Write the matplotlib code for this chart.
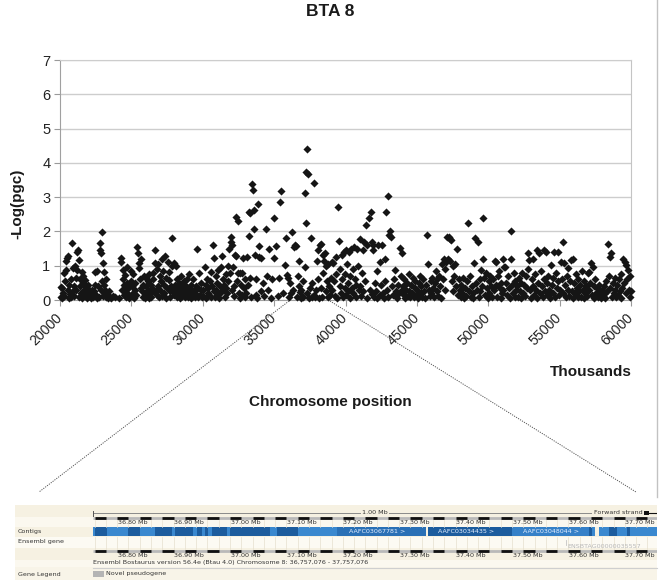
import matplotlib
matplotlib.use("Agg")
import matplotlib.pyplot as plt
from matplotlib.patches import Rectangle
import numpy as np

# ---------------- data: SNP position (kb) and -log(pgc) -----------------
pos_20_25 = [
    20050,20080,20130,20170,20200,20260,20300,20350,20400,20440,20490,20530,20570,20600,20640,20700,20740,20790,20850,20880,20930,20970,
    21010,21050,21090,21130,21180,21220,21260,21300,21330,21370,21420,21460,21520,21560,21600,21640,21690,21730,21780,21820,21870,21920,21960,
    22010,22060,22110,22160,22230,22300,22360,22420,22470,22520,22580,22620,22680,22730,22780,22810,22850,22880,22930,22960,22990,
    23020,23050,23080,23110,23150,23190,23230,23280,23330,23400,23470,23560,23680,23850,
    24150,24240,24290,24330,24380,24420,24460,24500,24540,24580,24620,24660,24700,24740,24790,24840,24890,24940,24980]
val_20_25 = [
    0.37,0.10,0.34,0.05,0.20,0.12,0.80,0.55,0.87,1.14,1.22,1.28,0.30,0.05,0.45,0.18,0.62,0.08,1.66,0.25,0.92,0.40,
    0.12,1.00,0.65,0.30,0.87,1.40,1.47,1.17,0.10,0.60,0.40,0.20,0.82,0.05,0.70,0.50,0.28,0.58,0.12,0.38,0.22,0.05,0.45,
    0.30,0.12,0.20,0.05,0.30,0.08,0.25,0.82,0.45,0.15,0.85,0.05,0.40,0.10,1.67,1.45,1.38,0.30,1.97,0.55,0.12,
    1.07,0.44,0.20,0.82,0.30,0.08,0.60,0.15,0.05,0.25,0.10,0.06,0.12,0.09,
    0.05,1.22,1.10,0.30,0.87,0.60,0.15,0.45,0.72,0.25,0.08,0.50,0.95,0.35,0.18,0.05,0.40,0.85,0.55]

pos_25_30 = [
    25020,25060,25100,25140,25190,25230,25280,25330,25400,25460,25520,25560,25600,25640,25690,25730,25780,25830,25880,25930,25970,
    26010,26050,26090,26130,26170,26210,26250,26300,26340,26390,26430,26480,26520,26560,26620,26680,26720,26770,26810,26860,26900,26950,
    27000,27040,27090,27130,27180,27220,27260,27300,27350,27400,27440,27480,27570,27610,27650,27700,27740,27790,27850,27880,27920,27960,
    28000,28040,28080,28120,28170,28210,28250,28300,28350,28400,28440,28490,28530,28580,28630,28680,28730,28780,28830,28880,28930,28970,
    29020,29070,29110,29160,29210,29260,29300,29350,29400,29450,29500,29550,29600,29650,29700,29750,29800,29850,29900,29950]
val_25_30 = [
    0.12,0.40,0.75,0.20,0.05,0.30,0.50,0.15,1.55,1.38,1.08,0.93,0.60,0.35,1.19,0.25,0.10,0.45,0.70,0.20,0.05,
    0.40,0.65,0.12,0.30,0.55,0.05,0.75,0.20,0.45,0.10,0.35,0.60,0.80,0.22,1.46,1.08,0.25,0.90,0.15,0.40,1.04,0.08,
    0.70,0.30,0.55,0.12,1.19,0.85,0.45,0.20,1.28,0.65,0.05,0.35,1.10,0.82,0.58,0.25,0.10,0.40,1.80,0.98,0.30,0.15,
    1.09,0.45,0.20,1.00,0.60,0.08,0.35,0.15,0.50,0.25,0.05,0.70,0.40,0.12,0.30,0.55,0.18,0.08,0.42,0.25,0.62,0.10,
    0.35,0.75,0.20,0.05,0.45,0.30,0.12,0.60,0.25,0.08,0.40,0.18,1.50,0.08,0.35,0.80,0.15,0.50,0.28,0.10]

pos_30_35 = [
    30000,30050,30160,30200,30250,30300,30350,30400,30450,30500,30550,30600,30650,30730,30760,30800,30850,30900,30950,
    31000,31050,31100,31150,31200,31250,31300,31360,31400,31450,31500,31550,31600,31650,31700,31750,31800,31850,31900,31970,
    32000,32050,32080,32120,32160,32200,32250,32320,32360,32400,32440,32490,32530,32580,32620,32680,32720,32760,32820,32870,32930,32970,
    33050,33100,33150,33220,33250,33300,33330,33400,33450,33500,33560,33610,33650,33700,33750,33780,33850,33920,33960,
    34050,34100,34200,34300,34440,34500,34600,34670,34750,34850,34960]
val_30_35 = [
    0.30,0.12,0.97,0.45,0.05,0.60,0.20,0.35,0.15,0.55,0.08,0.82,0.40,1.60,1.23,0.25,0.10,0.70,0.30,
    0.50,0.15,0.88,0.05,0.40,0.22,0.95,1.28,0.60,0.30,0.45,0.10,0.35,0.75,0.20,1.00,0.55,1.50,0.80,1.70,
    1.85,1.60,0.30,0.95,0.40,0.12,1.30,2.41,1.28,0.55,0.80,2.31,0.20,0.80,0.05,0.45,0.80,0.15,1.23,0.35,0.10,0.60,
    0.20,1.25,0.45,1.87,2.57,0.65,2.55,0.10,3.38,3.20,2.62,2.06,1.30,0.60,0.15,0.05,2.80,1.58,1.25,
    1.22,0.25,0.50,0.12,2.06,0.70,0.30,1.49,0.05,0.60,2.38]

pos_35_40 = [
    35020,35140,35250,35350,35440,35490,35600,35730,35850,35920,35970,
    36050,36120,36200,36270,36350,36400,36460,36550,36600,36650,36710,36760,36800,36850,36900,36950,
    37000,37050,37130,37140,37200,37210,37270,37320,37370,37420,37480,37560,37620,37680,37770,37820,37870,37930,
    38000,38050,38100,38150,38200,38250,38300,38350,38400,38450,38500,38540,38600,38650,38700,38750,38800,38860,38920,38970,
    39020,39080,39130,39200,39250,39300,39350,39400,39490,39530,39580,39630,39680,39730,39780,39830,39870,39930,39970]
val_35_40 = [
    1.22,1.58,0.12,0.65,2.87,3.18,0.20,1.02,1.80,0.72,0.64,
    0.08,0.50,0.20,1.97,0.30,1.55,1.60,1.58,0.10,0.70,1.15,0.40,0.22,0.05,0.30,0.12,
    0.55,0.10,0.97,3.11,3.74,2.24,0.20,4.39,3.67,0.05,0.35,1.80,0.10,0.50,3.40,0.15,0.08,0.30,
    1.15,0.60,1.45,0.05,1.60,0.35,1.62,0.10,1.30,0.80,1.15,1.36,0.25,1.00,0.55,0.08,1.05,0.40,0.15,0.65,
    0.30,1.10,1.09,0.55,0.12,1.25,0.75,0.05,2.72,1.72,0.40,0.90,0.20,1.30,0.60,0.10,1.40,0.35,0.75]

pos_40_45 = [
    40020,40070,40100,40150,40200,40260,40300,40350,40420,40470,40520,40560,40620,40660,40710,40760,40820,40890,40940,
    41010,41050,41100,41150,41200,41250,41300,41350,41410,41480,41530,41640,41700,41780,41830,41850,41900,41950,
    42000,42060,42120,42180,42240,42300,42390,42430,42500,42540,42620,42680,42740,42800,42840,42900,42960,
    43010,43050,43120,43200,43260,43320,43400,43450,43520,43580,43650,43720,43830,43880,43940,43980,
    44020,44080,44130,44190,44250,44300,44360,44420,44480,44540,44600,44660,44720,44780,44840,44900,44960]
val_40_45 = [
    0.15,1.45,1.06,0.50,0.25,1.40,0.70,0.05,1.50,0.35,0.90,0.20,1.55,0.60,0.10,0.45,1.50,0.99,0.30,
    1.77,0.40,0.12,0.78,1.45,0.25,1.70,0.55,2.20,1.60,0.05,2.38,0.30,2.56,1.70,0.18,1.60,1.45,
    0.10,0.50,0.25,0.85,0.05,1.60,1.12,0.15,0.45,1.60,0.20,0.05,0.55,1.20,2.56,0.30,0.10,
    3.03,1.90,2.00,1.85,0.40,0.15,0.60,0.87,0.25,0.05,0.45,0.20,1.52,0.70,1.37,0.30,
    0.40,0.15,0.60,0.05,0.30,0.50,0.12,0.75,0.25,0.08,0.45,0.20,0.65,0.10,0.35,0.55,0.15]

pos_45_50 = [
    45020,45080,45140,45200,45260,45320,45380,45450,45520,45580,45640,45700,45770,45830,45900,45960,
    46020,46080,46140,46200,46260,46320,46380,46440,46500,46560,46620,46680,46760,46820,46880,46940,
    47000,47050,47110,47170,47230,47300,47350,47390,47450,47500,47560,47620,47700,47760,47820,47880,47940,
    48000,48060,48120,48180,48240,48300,48360,48420,48480,48590,48650,48720,48780,48840,48900,48960,
    49000,49070,49130,49200,49270,49330,49400,49450,49520,49580,49630,49650,49720,49780,49840,49900,49960]
val_45_50 = [
    0.30,0.05,0.50,0.70,0.20,0.40,0.10,0.60,0.25,0.05,0.45,1.91,1.05,0.30,0.12,0.55,
    0.20,0.65,0.35,0.08,0.50,0.85,0.25,0.60,0.12,0.70,0.40,0.05,1.05,0.60,1.20,0.30,
    0.90,1.10,1.85,1.20,1.85,1.77,1.15,1.75,0.55,1.00,0.25,0.70,1.05,0.40,1.50,0.15,0.60,
    0.30,0.08,0.45,0.20,0.65,0.05,0.35,0.12,0.55,2.25,0.25,0.70,0.10,0.40,0.20,0.05,
    1.07,1.80,0.50,0.30,1.68,0.10,0.60,0.25,0.87,0.40,2.40,1.20,0.65,0.15,0.80,0.35,0.05]

pos_50_55 = [
    50020,50080,50140,50200,50260,50320,50380,50440,50510,50560,50620,50680,50740,50800,50860,50920,50970,
    51000,51060,51100,51200,51260,51320,51380,51440,51500,51570,51600,51660,51720,51780,51840,51900,51960,
    52020,52080,52140,52200,52260,52320,52380,52440,52500,52560,52620,52680,52750,52800,52860,52920,52970,
    53030,53100,53160,53220,53280,53340,53400,53450,53520,53570,53640,53700,53760,53820,53880,53920,53970,
    54040,54100,54160,54220,54280,54340,54390,54450,54510,54560,54620,54680,54740,54800,54860,54920,54970]
val_50_55 = [
    0.55,0.20,0.70,0.40,0.08,0.60,0.30,1.14,1.12,0.45,0.10,0.70,0.85,0.35,0.05,0.50,0.20,
    1.21,0.30,0.97,0.97,0.50,0.15,0.70,0.35,0.05,2.02,1.21,0.45,0.20,0.80,0.10,0.55,0.30,
    0.40,0.10,0.65,0.25,0.05,0.50,0.80,0.20,0.45,0.12,0.70,0.35,1.36,0.90,1.17,0.30,0.05,
    0.60,1.21,0.40,0.15,0.75,0.30,0.05,1.46,0.50,1.36,0.20,0.85,0.40,0.10,0.60,1.46,0.25,
    1.41,0.50,0.15,0.70,0.30,0.05,1.02,0.45,0.20,0.65,1.41,0.10,0.78,0.35,1.41,0.55,0.15]

pos_55_60 = [
    55030,55090,55150,55210,55270,55330,55390,55450,55500,55560,55620,55680,55740,55800,55860,55920,55970,
    56020,56080,56140,56200,56260,56320,56380,56440,56500,56560,56620,56680,56740,56800,56860,56920,56970,
    57030,57090,57150,57200,57260,57320,57380,57440,57500,57560,57620,57680,57740,57800,57860,57920,57970,
    58030,58090,58150,58210,58270,58330,58380,58440,58500,58560,58610,58670,58730,58790,58850,58910,58970,
    59030,59090,59150,59210,59270,59330,59390,59440,59500,59560,59620,59670,59730,59790,59850,59900,59950,59990]
val_55_60 = [
    0.30,1.12,0.60,1.68,0.20,1.07,0.45,0.08,0.70,0.92,0.30,0.12,0.55,1.17,0.25,1.21,0.05,
    0.50,0.20,0.75,0.35,0.08,0.60,0.25,0.45,0.10,0.85,0.30,0.05,0.55,0.20,0.40,0.12,0.78,
    0.30,0.83,0.50,1.07,0.15,0.97,0.40,0.05,0.60,0.20,0.35,0.10,0.45,0.15,0.25,0.05,0.30,
    0.12,0.40,0.20,0.05,0.55,0.25,1.63,0.70,1.26,0.35,1.36,0.10,0.50,0.20,0.65,0.30,0.08,
    0.45,0.15,0.60,0.25,0.05,0.75,0.35,1.21,0.50,1.12,0.20,1.02,0.60,0.87,0.30,0.70,0.10,0.25]

x_ticks = [20000, 25000, 30000, 35000, 40000, 45000, 50000, 55000, 60000]
x_tick_labels = ["20000", "25000", "30000", "35000", "40000", "45000", "50000", "55000", "60000"]
y_ticks = [0, 1, 2, 3, 4, 5, 6, 7]

# ---------------- Ensembl region (Mb) ----------------
region_start_mb = 36.757076
region_end_mb = 37.757076
ruler_labels_mb = [36.80, 36.90, 37.00, 37.10, 37.20, 37.30, 37.40, 37.50, 37.60, 37.70]
contig_starts = [36.7571, 36.7606, 36.7819, 36.8190, 36.8403, 36.8668, 36.8969, 36.9022, 36.9341, 36.9411,
                 36.9500, 36.9553, 36.9606, 36.9677, 36.9942, 36.9996, 37.0704, 37.0827, 37.1199, 37.1889,
                 37.3518, 37.4951, 37.5004, 37.6367, 37.6420, 37.6544, 37.6721, 37.6863, 37.7040, 37.7093]
contig_ends = [36.7606, 36.7819, 36.8190, 36.8403, 36.8668, 36.8969, 36.9022, 36.9341, 36.9411, 36.9500,
               36.9553, 36.9606, 36.9677, 36.9942, 36.9996, 37.0704, 37.0827, 37.1199, 37.1889, 37.3482,
               37.4951, 37.5004, 37.6367, 37.6420, 37.6474, 37.6721, 37.6863, 37.7040, 37.7093, 37.7571]
contig_shades = ["L", "D", "L", "D", "L", "D", "L", "D", "L", "D",
                 "L", "D", "L", "D", "L", "D", "L", "D", "L", "M",
                 "D", "D", "N", "D", "L", "L", "D", "L", "D", "L"]
contig_names = ["AAFC03067781 >", "AAFC03034435 >", "AAFC03048044 >"]
contig_name_mb = [37.2615, 37.419, 37.569]
gene_name = "ENSBTAG00000035557"
gene_mb = 37.596

# ---------------- figure ----------------
W, H = 661, 583
fig = plt.figure(figsize=(W / 100, H / 100), dpi=100)
fig.patch.set_facecolor("white")
FONT = ["Liberation Sans", "DejaVu Sans"]


def fx(px):
    return px / W


def fy(py):
    return 1 - py / H


positions = pos_20_25 + pos_25_30 + pos_30_35 + pos_35_40 + pos_40_45 + pos_45_50 + pos_50_55 + pos_55_60
values = val_20_25 + val_25_30 + val_30_35 + val_35_40 + val_40_45 + val_45_50 + val_50_55 + val_55_60
assert len(positions) == len(values), (len(positions), len(values))

ax = fig.add_axes([fx(60), fy(300), fx(631) - fx(60), fy(60) - fy(300)])
ax.set_facecolor("white")
ax.scatter(positions, values, marker="D", s=17, c="#151515", linewidths=0, zorder=3, clip_on=False)
ax.set_xlim(20000, 60000)
ax.set_ylim(0, 7)
ax.set_yticks(y_ticks)
ax.set_yticklabels([str(v) for v in y_ticks], fontfamily=FONT, fontsize=10.5, color="#222")
ax.set_xticks(x_ticks)
ax.set_xticklabels(x_tick_labels, rotation=45, ha="right", va="center",
                   rotation_mode="anchor", fontfamily=FONT, fontsize=10.2, color="#222")
ax.tick_params(axis="x", length=4, color="#9a9a9a", pad=7)
ax.tick_params(axis="y", length=4, color="#9a9a9a", pad=3)
ax.yaxis.grid(True, color="#cdcdcd", lw=1.0)
ax.set_axisbelow(True)
for side in ["left", "bottom"]:
    ax.spines[side].set_color("#a0a0a0")
ax.spines["right"].set_color("#c4c4c4")
ax.spines["top"].set_color("#cdcdcd")

fig.text(fx(330), fy(11), "BTA 8", ha="center", va="center", fontsize=12.5,
         fontweight="bold", fontfamily=FONT, color="#1a1a1a")
fig.text(fx(17), fy(204), "-Log(pgc)", ha="center", va="center", rotation=90,
         fontsize=11, fontweight="bold", fontfamily=FONT, color="#1a1a1a")
fig.text(fx(632), fy(372), "Thousands", ha="right", va="center", fontsize=11,
         fontweight="bold", fontfamily=FONT, color="#1a1a1a")
fig.text(fx(330), fy(402), "Chromosome position", ha="center", va="center",
         fontsize=11, fontweight="bold", fontfamily=FONT, color="#1a1a1a")

# ---------------- overlay in pixel coordinates ----------------
ov = fig.add_axes([0, 0, 1, 1], zorder=5)
ov.set_xlim(0, W)
ov.set_ylim(H, 0)
ov.axis("off")
ov.patch.set_alpha(0)

# right border of the chart picture
ov.plot([657, 657], [0, 497], color="#c2c2c2", lw=1)
# zoom connector lines
ov.plot([289, 39], [301, 492], color="#555", lw=0.7, ls=(0, (1.2, 1.2)))
ov.plot([330, 636], [301, 492], color="#555", lw=0.7, ls=(0, (1.2, 1.2)))

# Ensembl panel background rows
rows = [(505, 517, "#f6f1e2"), (517, 527, "#fbf8ef"), (527, 537, "#f6f1e2"),
        (537, 548, "#fcfaf3"), (548, 560, "#f6f1e2"), (560, 567, "#fbf8ef"),
        (567, 580, "#f8f4e8")]
for y0, y1, c in rows:
    ov.add_patch(Rectangle((15, y0), 657 - 15, y1 - y0, facecolor=c, edgecolor="none"))
ov.plot([93, 657], [567.5, 567.5], color="#cfcfcf", lw=0.8)

small = dict(fontfamily="DejaVu Sans", fontsize=4.6, color="#333")
ov.text(18, 531.5, "Contigs", ha="left", va="center", **small)
ov.text(18, 542, "Ensembl gene", ha="left", va="center", **small)
ov.text(18, 574.5, "Gene Legend", ha="left", va="center", **small)
ov.add_patch(Rectangle((93, 571), 11, 5.5, facecolor="#b4b4b4", edgecolor="none"))
ov.text(106, 573.8, "Novel pseudogene", ha="left", va="center", **small)

# track axes in Mb
tr = fig.add_axes([fx(93), fy(580), fx(657) - fx(93), fy(505) - fy(580)], zorder=6)
tr.set_xlim(region_start_mb, region_end_mb)
tr.set_ylim(580, 505)
tr.axis("off")
tr.patch.set_alpha(0)

grid_mb = np.arange(36.76, 37.76, 0.02)
for g in grid_mb:
    tr.plot([g, g], [519.5, 526.5], color="#e9e2d2", lw=0.5)
    tr.plot([g, g], [537, 548.5], color="#e6dfcf", lw=0.5)

# scale bar
tr.plot([region_start_mb, 37.640], [513, 513], color="#8a8a8a", lw=0.7)
tr.plot([region_start_mb, region_start_mb], [510.5, 515.5], color="#555", lw=0.7)
tr.text((region_start_mb + region_end_mb) / 2, 513, "1.00 Mb", ha="center", va="center",
        fontfamily="DejaVu Sans", fontsize=4.6, color="#333",
        bbox=dict(facecolor="#f6f1e2", edgecolor="none", pad=0.6))
tr.text(37.7315, 512.6, "Forward strand", ha="right", va="center",
        fontfamily="DejaVu Sans", fontsize=4.6, color="#333")
tr.add_patch(Rectangle((37.7345, 511.3), 0.009, 3.4, facecolor="#111", edgecolor="none"))
tr.plot([37.7435, 37.7565], [513, 513], color="#111", lw=0.8)


def ruler(y, ylab):
    tr.plot([region_start_mb, region_end_mb], [y, y], color="#b9b9b9", lw=2.0, solid_capstyle="butt")
    for s in np.arange(36.76, 37.75, 0.04):
        tr.plot([s, min(s + 0.02, region_end_mb)], [y, y], color="#111", lw=2.0, solid_capstyle="butt")
    for m in ruler_labels_mb:
        tr.text(m + 0.001, ylab, "%.2f Mb" % m, ha="left", va="center",
                fontfamily="DejaVu Sans", fontsize=4.6, color="#333")


ruler(517.6, 522.8)
ruler(550.6, 555.8)

shade_colors = {"D": "#1c5c9e", "M": "#2a70b6", "L": "#3a88cf", "N": "#3580c8"}
for s, e, sh in zip(contig_starts, contig_ends, contig_shades):
    tr.add_patch(Rectangle((s, 527.3), e - s, 9.0, facecolor=shade_colors[sh], edgecolor="none"))
for name, m in zip(contig_names, contig_name_mb):
    tr.text(m, 531.8, name, ha="center", va="center", fontfamily="DejaVu Sans",
            fontsize=4.6, color="#e6efff")

tr.plot([gene_mb, gene_mb], [540, 545], color="#c4c4c4", lw=0.6)
tr.text(gene_mb + 0.002, 546, gene_name, ha="left", va="center", fontfamily="DejaVu Sans",
        fontsize=4.6, color="#b8b8b8")

tr.text(region_start_mb, 562.5,
        "Ensembl Bostaurus version 56.4e (Btau 4.0) Chromosome 8: 36,757,076 - 37,757,076",
        ha="left", va="center", fontfamily="DejaVu Sans", fontsize=4.6, color="#333")

fig.savefig("out.png", dpi=100)
